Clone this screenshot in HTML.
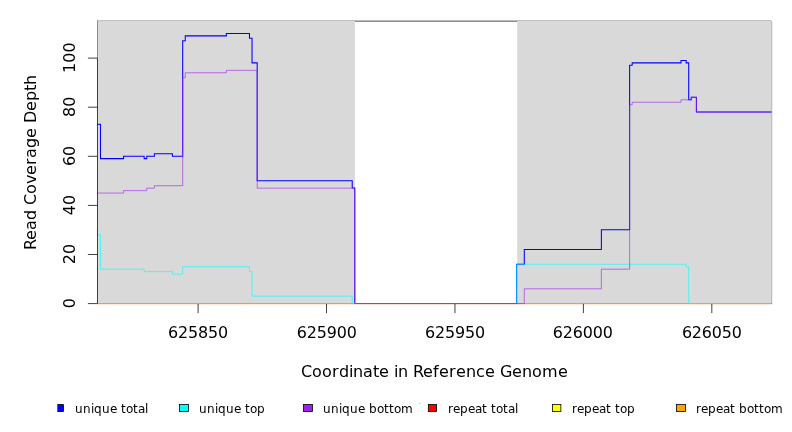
<!DOCTYPE html>
<html lang="en"><head><meta charset="utf-8"><title>Read Coverage Depth</title>
<style>html,body{margin:0;padding:0;background:#fff}body{width:792px;height:432px;overflow:hidden}svg{display:block;will-change:transform}text{font-family:"DejaVu Sans","Liberation Sans",sans-serif;fill:#000}.ax{font-size:15.95px}.tk{font-size:15.95px;letter-spacing:-0.16px}.tt{font-size:16px}.lg{font-size:12px}</style></head><body>
<svg width="792" height="432" viewBox="0 0 792 432">
<rect width="792" height="432" fill="#fff"/>
<path d="M97,21.14H771.1M771.6,21V303.5" fill="none" stroke="#000" stroke-width="0.72"/>
<rect x="98.1" y="20.85" width="256.80" height="283.15" fill="#d9d9d9"/>
<rect x="517.2" y="20.85" width="254.60" height="283.15" fill="#d9d9d9"/>
<rect x="97" y="20.8" width="1" height="37.30" fill="#8a8a8a"/>
<path d="M97.5,304.1H771.9" fill="none" stroke="#ff0000" stroke-width="0.75" opacity="0.16"/>
<path d="M97.5,303.6H771.5" fill="none" stroke="#ff9a00" stroke-width="1"/>
<path d="M97.5,124.23H100.49V158.6H123.61V156.15H144.16V158.6H146.73V156.15H154.43V153.69H172.41V156.15H182.69V40.76H185.26V35.85H226.35V33.4H249.47V38.31H252.04V62.86H257.18V180.7H352.22V188.06H354.78V303.45H516.61V264.17H524.31V249.44H601.37V229.8H629.62V65.31H632.19V62.86H681.0V60.4H686.13V62.86H688.7V99.68H691.27V97.23H696.41V111.96H771.5" fill="none" stroke="#0000ff" stroke-width="1.05" stroke-linejoin="miter"/>
<path d="M97.5,234.81H100.49V269.18H144.16V271.63H172.41V274.09H182.69V266.73H249.47V271.63H252.04V296.19H352.22V303.55H516.61V264.27H686.13V266.73H688.7V303.55H771.5" fill="none" stroke="#00ffff" stroke-width="0.62" stroke-linejoin="miter"/>
<path d="M97.5,193.07H123.61V190.62H146.73V188.17H154.43V185.71H182.69V77.69H185.26V72.78H226.35V70.33H257.18V188.17H354.78V303.55H524.31V288.82H601.37V269.18H629.62V104.69H632.19V102.24H681.0V99.78H691.27V97.33H696.41V112.06H771.5" fill="none" stroke="#a020f0" stroke-width="0.62" stroke-linejoin="miter"/>
<rect x="771" y="303" width="1" height="1" fill="#e0705a"/>
<g fill="none" stroke="#000" stroke-width="0.75">
<path d="M97.5,58.1V303.5"/>
<path d="M87.9,303.6H97.5"/>
<path d="M87.9,254.5H97.5"/>
<path d="M87.9,205.4H97.5"/>
<path d="M87.9,156.3H97.5"/>
<path d="M87.9,107.2H97.5"/>
<path d="M87.9,58.1H97.5"/>
<path d="M198.1,303.9V313.1"/>
<path d="M326.53,303.9V313.1"/>
<path d="M454.96,303.9V313.1"/>
<path d="M583.39,303.9V313.1"/>
<path d="M711.82,303.9V313.1"/>
</g>
<text class="tk" x="197.95" y="338" text-anchor="middle">625850</text>
<text class="tk" x="326.7" y="338" text-anchor="middle">625900</text>
<text class="tk" x="454.95" y="338" text-anchor="middle">625950</text>
<text class="tk" x="582.8" y="338" text-anchor="middle">626000</text>
<text class="tk" x="711.85" y="338" text-anchor="middle">626050</text>
<text class="ax" transform="translate(75.3,303.2) rotate(-90)" text-anchor="middle">0</text>
<text class="ax" transform="translate(75.3,254.1) rotate(-90)" text-anchor="middle">20</text>
<text class="ax" transform="translate(75.3,205.0) rotate(-90)" text-anchor="middle">40</text>
<text class="ax" transform="translate(75.3,155.9) rotate(-90)" text-anchor="middle">60</text>
<text class="ax" transform="translate(75.3,106.8) rotate(-90)" text-anchor="middle">80</text>
<text class="ax" transform="translate(75.3,57.7) rotate(-90)" text-anchor="middle">100</text>
<text class="tt" x="301 312 322 332 339 349 353 363 373 379 389 394 398 408 413 423 433 439 449 456 466 476 485 495 500 512 522 532 542 558" y="376.6">Coordinate in Reference Genome</text>
<text class="tt" transform="translate(36.3,250) rotate(-90)" x="0 10 20 30 40 45 56 66 75 85 92 102 112 122 127 139 149 159 165" y="0">Read Coverage Depth</text>
<rect x="57.3" y="404.5" width="6.2" height="7" fill="#0000ff"/>
<path d="M57.3,404.5H63.5V411.5H57.3" fill="none" stroke="#000" stroke-width="0.8"/>
<text class="lg" x="74.9 82.9 90.9 93.9 101.9 109.9 116.9 120.9 125.9 132.9 137.9 144.9" y="412.6">unique total</text>
<rect x="179.5" y="404.5" width="9" height="7" fill="#00ffff" stroke="#000" stroke-width="0.8"/>
<text class="lg" x="198.9 206.9 214.9 217.9 225.9 233.9 240.9 244.9 249.9 256.9" y="412.6">unique top</text>
<rect x="303.35" y="404.5" width="9.1" height="7" fill="#a020f0" stroke="#000" stroke-width="0.8"/>
<text class="lg" x="322.9 330.9 338.9 341.9 349.9 357.9 364.9 368.9 376.9 383.9 388.9 393.9 400.9" y="412.6">unique bottom</text>
<rect x="428.3" y="404.5" width="8.3" height="7" fill="#ff0000" stroke="#000" stroke-width="0.8"/>
<text class="lg" x="447.9 452.9 459.9 467.9 474.9 481.9 486.9 490.9 495.9 502.9 507.9 514.9" y="412.6">repeat total</text>
<rect x="552.5" y="404.5" width="8.4" height="7" fill="#ffff00" stroke="#000" stroke-width="0.8"/>
<text class="lg" x="571.9 576.9 583.9 591.9 598.9 605.9 610.9 614.9 619.9 626.9" y="412.6">repeat top</text>
<rect x="676.5" y="404.5" width="9" height="7" fill="#ffa500" stroke="#000" stroke-width="0.8"/>
<text class="lg" x="695.9 700.9 707.9 715.9 722.9 729.9 734.9 738.9 746.9 753.9 758.9 763.9 770.9" y="412.6">repeat bottom</text>
<rect x="419" y="403" width="2" height="1" fill="#cfcfcf"/>
</svg></body></html>
